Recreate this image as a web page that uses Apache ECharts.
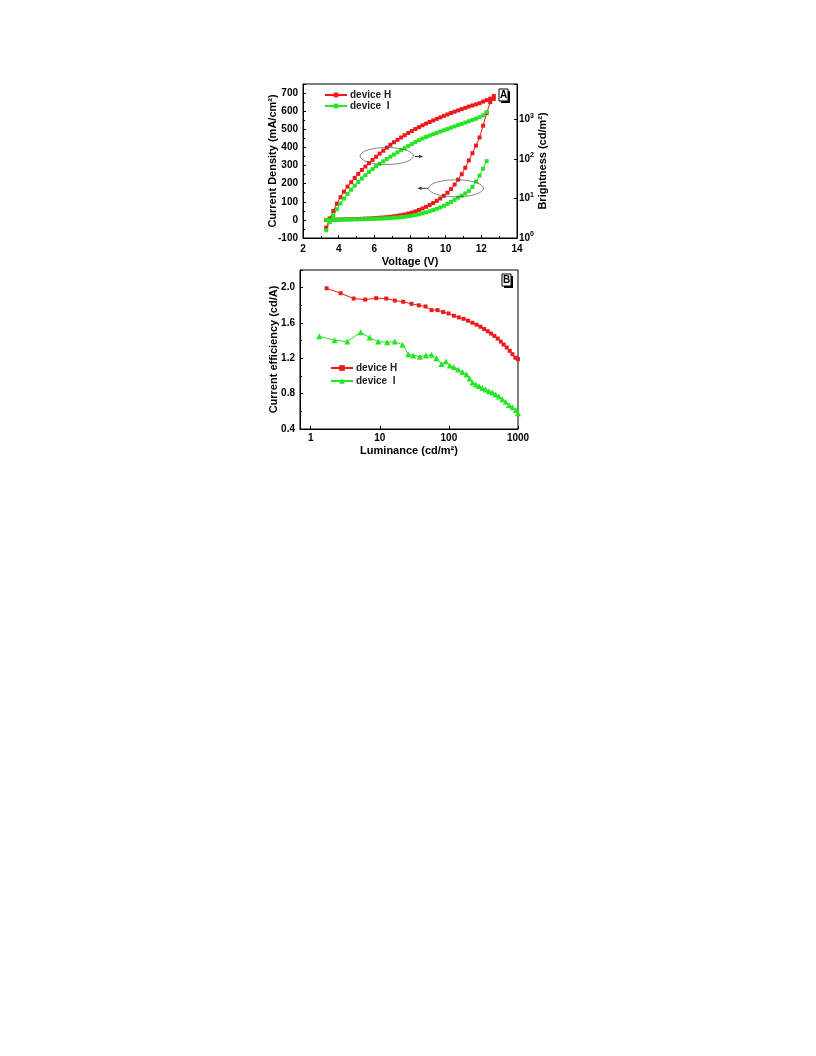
<!DOCTYPE html>
<html>
<head>
<meta charset="utf-8">
<script src="https://cdn.jsdelivr.net/npm/echarts@6/dist/echarts.min.js"></script>
<style>
html,body{margin:0;padding:0;background:#fff;}
#chart{width:816px;height:1056px;}
</style>
</head>
<body>
<div id="chart"></div>
<script>
// ---------- Panel A : voltage sweeps ----------
const voltH = [3.3,3.5,3.7,3.9,4.1,4.3,4.5,4.7,4.9,5.1,5.3,5.5,5.7,5.9,6.1,6.3,6.5,6.7,6.9,7.1,7.3,7.5,7.7,7.9,8.1,8.3,8.5,8.7,8.9,9.1,9.3,9.5,9.7,9.9,10.1,10.3,10.5,10.7,10.9,11.1,11.3,11.5,11.7,11.9,12.1,12.3,12.5,12.7];
const voltI = [3.3,3.5,3.7,3.9,4.1,4.3,4.5,4.7,4.9,5.1,5.3,5.5,5.7,5.9,6.1,6.3,6.5,6.7,6.9,7.1,7.3,7.5,7.7,7.9,8.1,8.3,8.5,8.7,8.9,9.1,9.3,9.5,9.7,9.9,10.1,10.3,10.5,10.7,10.9,11.1,11.3,11.5,11.7,11.9,12.1,12.3];
// Brightness (cd/m2), right log axis
const brightH = [1.83,3.13,4.80,7.36,10.7,14.8,19.9,25.7,32.9,41.6,52.1,63.8,77.4,94,113,135,160,192,226,262,301,346,394,448,504,566,630,701,772,851,927,1020,1112,1211,1319,1437,1548,1668,1797,1937,2087,2227,2375,2532,2786,3034,3311,3846];
const brightI = [1.56,2.52,3.67,5.34,7.43,9.93,13.0,16.6,21.0,26.0,31.9,38.6,46.4,55.0,64.6,75.0,86.1,99.0,113,128,146,166,186,209,236,265,295,325,354,385,420,453,488,526,566,611,658,709,764,824,887,957,1031,1122,1250,1517];
// Current density (mA/cm2), left axis
const currentH = [0,1,1,2,2,3,3,4,5,5,6,7,8,9,10,12,13,15,17,20,23,26,30,35,40,47,55,63,72,82,93,105,118,133,150,170,195,222,252,288,328,368,410,455,520,590,650,668];
const currentI = [0,0,1,1,1,2,2,2,3,3,4,4,5,6,6,7,8,9,10,12,13,15,17,20,23,27,31,36,41,47,54,61,69,78,88,99,111,123,134,146,160,182,212,245,282,324];

// ---------- Panel B : efficiency vs luminance ----------
const lumH = [1.70,2.71,4.18,6.15,8.87,12.4,16.5,21.8,28.8,36.7,45.9,56.1,68.4,82.5,98.7,118,139,163,189,219,251,286,323,365,408,456,509,563,621,687,759,830,917,1000];
const ceH  = [1.993,1.937,1.877,1.865,1.881,1.877,1.854,1.84,1.817,1.80,1.787,1.746,1.746,1.724,1.708,1.682,1.663,1.648,1.626,1.603,1.581,1.558,1.532,1.506,1.48,1.454,1.424,1.39,1.356,1.322,1.285,1.247,1.207,1.19];
const lumI = [1.33,2.22,3.38,5.28,7.13,9.49,12.8,16.5,21.3,25.8,30.4,38,46.4,56.1,66.2,78.2,90.2,103,118,136,157,180,200,219,245,273,306,341,381,427,476,531,595,664,741,830,927,1000];
const ceI  = [1.449,1.404,1.39,1.494,1.435,1.39,1.382,1.39,1.353,1.247,1.233,1.218,1.233,1.24,1.202,1.135,1.165,1.12,1.101,1.075,1.045,1.016,0.971,0.926,0.903,0.888,0.865,0.847,0.828,0.813,0.791,0.768,0.738,0.708,0.671,0.645,0.615,0.578];

// tick labels
const xTicksA = [2,4,6,8,10,12,14];
const yTicksA = [-100,0,100,200,300,400,500,600,700];
const yTicksB = [0.4,0.8,1.2,1.6,2.0];

const RED = '#f01818';
const GREEN = '#22e622';
const FONT = '"Liberation Sans", Arial, sans-serif';

function zip(a, b) { return a.map((v, i) => [v, b[i]]); }
function isPow10(v) {
  const l = Math.log10(v);
  return Math.abs(l - Math.round(l)) < 1e-6;
}

const labelStyle = { color: '#000', fontSize: 10, fontWeight: 'bold', fontFamily: FONT };
const nameStyle = { color: '#000', fontSize: 11, fontWeight: 'bold', fontFamily: FONT };
const axisLine = { show: true, onZero: false, lineStyle: { color: '#000', width: 1 } };
const tick = { show: true, inside: true, length: 3, lineStyle: { color: '#000' } };
const minor = { show: true, splitNumber: 2, length: 2, lineStyle: { color: '#000' } };

const chart = echarts.init(document.getElementById('chart'), null, { renderer: 'canvas' });

const option = {
  animation: false,
  backgroundColor: '#fff',
  grid: [
    { left: 303, top: 84, width: 214, height: 154, show: true, borderColor: '#000', borderWidth: 1, backgroundColor: 'transparent' },
    { left: 300, top: 270, width: 218, height: 159, show: true, borderColor: '#000', borderWidth: 1, backgroundColor: 'transparent' }
  ],
  xAxis: [
    {
      gridIndex: 0, type: 'value', min: xTicksA[0], max: xTicksA[xTicksA.length - 1], interval: 2,
      name: 'Voltage (V)', nameLocation: 'middle', nameGap: 18, nameTextStyle: nameStyle,
      axisLine: axisLine, axisTick: tick, minorTick: minor, splitLine: { show: false },
      axisLabel: Object.assign({ margin: 6 }, labelStyle)
    },
    {
      gridIndex: 1, type: 'log', logBase: 10, min: 0.7, max: 1000,
      name: 'Luminance (cd/m\u00B2)', nameLocation: 'middle', nameGap: 16, nameTextStyle: nameStyle,
      axisLine: axisLine, axisTick: tick, minorTick: { show: false }, splitLine: { show: false },
      axisLabel: Object.assign({ margin: 4, formatter: v => isPow10(v) ? String(Math.round(v)) : '' }, labelStyle)
    }
  ],
  yAxis: [
    {
      gridIndex: 0, type: 'value', min: yTicksA[0], max: 750, interval: 100,
      name: 'Current Density (mA/cm\u00B2)', nameLocation: 'middle', nameGap: 25, nameRotate: 90, nameMoveOverlap: false, nameTextStyle: nameStyle,
      axisLine: axisLine, axisTick: tick, minorTick: minor, splitLine: { show: false },
      axisLabel: Object.assign({ margin: 5, showMaxLabel: false }, labelStyle)
    },
    {
      gridIndex: 0, type: 'log', logBase: 10, min: 1, max: 7750, position: 'right',
      name: 'Brightness (cd/m\u00B2)', nameLocation: 'middle', nameGap: 17, nameRotate: 90, nameTextStyle: nameStyle,
      axisLine: axisLine, axisTick: tick, minorTick: { show: false }, splitLine: { show: false },
      axisLabel: Object.assign({
        margin: 2,
        formatter: v => isPow10(v) ? '10{s|' + Math.round(Math.log10(v)) + '}' : '',
        rich: { s: { fontSize: 7, fontWeight: 'bold', fontFamily: FONT, color: '#000', padding: [0, 0, 7, 0] } }
      }, labelStyle)
    },
    {
      gridIndex: 1, type: 'value', min: yTicksB[0], max: 2.2, interval: 0.4,
      name: 'Current efficiency (cd/A)', nameLocation: 'middle', nameGap: 21, nameRotate: 90, nameMoveOverlap: false, nameTextStyle: nameStyle,
      axisLine: axisLine, axisTick: tick, minorTick: minor, splitLine: { show: false },
      axisLabel: Object.assign({ margin: 5, showMaxLabel: false, formatter: v => v.toFixed(1) }, labelStyle)
    }
  ],
  legend: [
    {
      data: ['device H', 'device I'], orient: 'vertical', left: 324, top: 90, padding: 0,
      itemWidth: 22, itemHeight: 6, itemGap: 1,
      formatter: n => n === 'device I' ? 'device  I' : n,
      textStyle: { color: '#222', fontSize: 10, fontWeight: 'bold', fontFamily: FONT, lineHeight: 10, padding: [0, 0, 0, -2] }
    },
    {
      data: ['B device H', 'B device I'], orient: 'vertical', left: 330, top: 362.5, padding: 0,
      itemWidth: 22, itemHeight: 7, itemGap: 2,
      formatter: n => n === 'B device I' ? 'device  I' : 'device H',
      textStyle: { color: '#222', fontSize: 10, fontWeight: 'bold', fontFamily: FONT, lineHeight: 11, padding: [0, 0, 0, -2] }
    }
  ],
  series: [
    { name: 'device H', type: 'line', xAxisIndex: 0, yAxisIndex: 1, data: zip(voltH, brightH),
      symbol: 'rect', symbolSize: 4, lineStyle: { color: RED, width: 1 }, itemStyle: { color: RED } },
    { name: 'device H', type: 'line', xAxisIndex: 0, yAxisIndex: 0, data: zip(voltH, currentH),
      symbol: 'rect', symbolSize: 4, lineStyle: { color: RED, width: 1 }, itemStyle: { color: RED } },
    { name: 'device I', type: 'line', xAxisIndex: 0, yAxisIndex: 1, data: zip(voltI, brightI),
      symbol: 'rect', symbolSize: 4, lineStyle: { color: GREEN, width: 1 }, itemStyle: { color: GREEN } },
    { name: 'device I', type: 'line', xAxisIndex: 0, yAxisIndex: 0, data: zip(voltI, currentI),
      symbol: 'rect', symbolSize: 4, lineStyle: { color: GREEN, width: 1 }, itemStyle: { color: GREEN } },
    { name: 'B device H', type: 'line', xAxisIndex: 1, yAxisIndex: 2, data: zip(lumH, ceH),
      symbol: 'rect', symbolSize: 4, lineStyle: { color: RED, width: 1 }, itemStyle: { color: RED } },
    { name: 'B device I', type: 'line', xAxisIndex: 1, yAxisIndex: 2, data: zip(lumI, ceI),
      symbol: 'triangle', symbolSize: 6, lineStyle: { color: GREEN, width: 1 }, itemStyle: { color: GREEN } }
  ],
  graphic: [
    // ellipse + arrow (brightness -> right axis)
    { type: 'circle', x: 386.7, y: 156, scaleX: 1, scaleY: 8.5 / 26.7, shape: { cx: 0, cy: 0, r: 26.7 },
      style: { fill: 'none', stroke: '#444', lineWidth: 1, strokeNoScale: true }, z: 10 },
    { type: 'line', shape: { x1: 415, y1: 156.5, x2: 420, y2: 156.5 }, style: { stroke: '#333', lineWidth: 1 }, z: 10 },
    { type: 'polygon', shape: { points: [[423, 156.5], [419, 154.8], [419, 158.2]] }, style: { fill: '#333' }, z: 10 },
    // ellipse + arrow (current density -> left axis)
    { type: 'circle', x: 456, y: 188.3, scaleX: 1, scaleY: 8.5 / 27.5, shape: { cx: 0, cy: 0, r: 27.5 },
      style: { fill: 'none', stroke: '#444', lineWidth: 1, strokeNoScale: true }, z: 10 },
    { type: 'line', shape: { x1: 428, y1: 188.3, x2: 421, y2: 188.3 }, style: { stroke: '#333', lineWidth: 1 }, z: 10 },
    { type: 'polygon', shape: { points: [[417.5, 188.3], [421.5, 186.6], [421.5, 190]] }, style: { fill: '#333' }, z: 10 },
    // panel label A
    { type: 'rect', shape: { x: 501, y: 91, width: 9, height: 12 }, style: { fill: '#000' }, z: 10 },
    { type: 'rect', shape: { x: 499, y: 89, width: 9, height: 12 }, style: { fill: '#fff', stroke: '#000', lineWidth: 1 }, z: 11 },
    { type: 'text', x: 503.5, y: 95.5, style: { text: 'A', fill: '#000', font: 'bold 10px ' + FONT, textAlign: 'center', textVerticalAlign: 'middle' }, z: 12 },
    // panel label B
    { type: 'rect', shape: { x: 504, y: 276, width: 9, height: 12 }, style: { fill: '#000' }, z: 10 },
    { type: 'rect', shape: { x: 502, y: 274, width: 9, height: 12 }, style: { fill: '#fff', stroke: '#000', lineWidth: 1 }, z: 11 },
    { type: 'text', x: 506.5, y: 280.5, style: { text: 'B', fill: '#000', font: 'bold 10px ' + FONT, textAlign: 'center', textVerticalAlign: 'middle' }, z: 12 }
  ]
};

chart.setOption(option);
</script>
</body>
</html>
